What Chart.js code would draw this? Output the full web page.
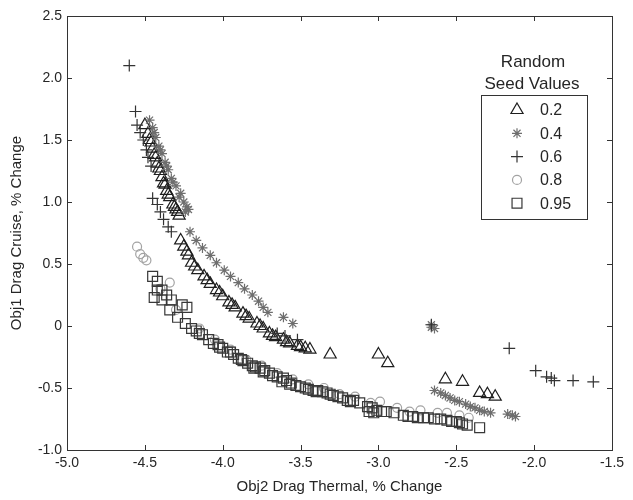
<!DOCTYPE html>
<html>
<head>
    <title>Random Seed Values</title>
    <style>
        body { margin: 0; background: #fff; }
        canvas { display: block; }
    </style>
    <script src="https://cdn.jsdelivr.net/npm/chart.js"></script>
</head>
<body>
    <canvas id="seedChart" width="633" height="500"></canvas>

    <script>
        // seed values shown in the legend
        const seedLabels = ['0.2', '0.4', '0.6', '0.8', '0.95'];

        const xTicks = [-5, -4.5, -4, -3.5, -3, -2.5, -2, -1.5];
        const yTicks = [-1, -0.5, 0, 0.5, 1, 1.5, 2, 2.5];

        // [Obj2 Drag Thermal, Obj1 Drag Cruise]
        const seed02 = [
            [-4.50, 1.62], [-4.48, 1.55], [-4.47, 1.50], [-4.46, 1.48], [-4.45, 1.43], [-4.44, 1.38],
            [-4.43, 1.36], [-4.42, 1.31], [-4.41, 1.27], [-4.40, 1.25], [-4.39, 1.20], [-4.38, 1.15],
            [-4.37, 1.14], [-4.36, 1.09], [-4.35, 1.06], [-4.34, 1.04], [-4.32, 0.98], [-4.31, 0.96],
            [-4.30, 0.94], [-4.29, 0.92], [-4.28, 0.89],
            [-4.27, 0.69], [-4.25, 0.64], [-4.23, 0.60], [-4.22, 0.57], [-4.20, 0.51], [-4.18, 0.48],
            [-4.16, 0.45], [-4.12, 0.40], [-4.10, 0.37], [-4.08, 0.34], [-4.04, 0.29], [-4.02, 0.27],
            [-4.00, 0.24], [-3.96, 0.19], [-3.94, 0.17], [-3.92, 0.15], [-3.87, 0.10], [-3.85, 0.08],
            [-3.83, 0.06], [-3.78, 0.02], [-3.76, 0.00], [-3.74, -0.02], [-3.70, -0.06], [-3.68, -0.08],
            [-3.66, -0.09], [-3.61, -0.11], [-3.59, -0.13], [-3.57, -0.14], [-3.52, -0.16], [-3.50, -0.17],
            [-3.47, -0.18], [-3.44, -0.19],
            [-3.31, -0.23], [-3.00, -0.23], [-2.94, -0.30], [-2.57, -0.43], [-2.46, -0.45],
            [-2.35, -0.54], [-2.30, -0.55], [-2.25, -0.57]
        ];

        const seed04 = [
            [-4.47, 1.66], [-4.45, 1.60], [-4.44, 1.56], [-4.43, 1.52], [-4.41, 1.45], [-4.40, 1.42],
            [-4.39, 1.39], [-4.37, 1.32], [-4.36, 1.29], [-4.35, 1.26], [-4.33, 1.19], [-4.32, 1.16],
            [-4.30, 1.13], [-4.28, 1.04], [-4.27, 1.07], [-4.25, 1.00], [-4.23, 0.96], [-4.22, 0.94],
            [-4.24, 0.92],
            [-4.21, 0.76], [-4.17, 0.69], [-4.13, 0.63], [-4.08, 0.57], [-4.04, 0.51], [-3.99, 0.45],
            [-3.95, 0.40], [-3.90, 0.35], [-3.86, 0.30], [-3.81, 0.25], [-3.77, 0.20], [-3.74, 0.15],
            [-3.71, 0.11], [-3.61, 0.07], [-3.55, 0.02],
            [-2.66, 0.01], [-2.64, -0.02], [-2.66, -0.01],
            [-2.64, -0.52], [-2.60, -0.54], [-2.57, -0.56], [-2.54, -0.58], [-2.51, -0.60], [-2.48, -0.61],
            [-2.44, -0.63], [-2.41, -0.65], [-2.38, -0.66], [-2.35, -0.68], [-2.32, -0.69], [-2.28, -0.70],
            [-2.17, -0.71], [-2.14, -0.72], [-2.12, -0.73]
        ];

        const seed06 = [
            [-4.60, 2.10], [-4.56, 1.73], [-4.55, 1.62], [-4.53, 1.56], [-4.51, 1.50], [-4.49, 1.42],
            [-4.48, 1.36], [-4.46, 1.29],
            [-4.45, 1.03], [-4.42, 0.98], [-4.40, 0.92], [-4.38, 0.86], [-4.35, 0.80], [-4.33, 0.76],
            [-3.65, -0.06], [-3.60, -0.08], [-3.52, -0.11],
            [-2.66, 0.01], [-2.16, -0.18], [-1.99, -0.36], [-1.92, -0.41], [-1.89, -0.42],
            [-1.87, -0.44], [-1.75, -0.44], [-1.62, -0.45]
        ];

        const seed08 = [
            [-4.55, 0.64], [-4.53, 0.58], [-4.51, 0.55], [-4.49, 0.53], [-4.34, 0.35], [-4.40, 0.30],
            [-4.30, 0.13], [-4.15, -0.02], [-4.05, -0.11], [-3.95, -0.19], [-3.85, -0.27], [-3.75, -0.32],
            [-3.65, -0.38], [-3.55, -0.43], [-3.45, -0.47], [-3.35, -0.50], [-3.25, -0.55], [-3.15, -0.57],
            [-3.05, -0.62], [-2.99, -0.61], [-2.88, -0.66], [-2.80, -0.69], [-2.73, -0.68], [-2.62, -0.70],
            [-2.56, -0.70], [-2.48, -0.72], [-2.42, -0.74]
        ];

        const seed095 = [
            [-4.45, 0.40], [-4.42, 0.36], [-4.39, 0.29], [-4.36, 0.25], [-4.33, 0.21], [-4.26, 0.17],
            [-4.23, 0.15], [-4.44, 0.23], [-4.39, 0.21], [-4.34, 0.13], [-4.29, 0.07], [-4.24, 0.02],
            [-4.20, -0.02], [-4.42, 0.29],
            [-4.17, -0.04], [-4.15, -0.06], [-4.13, -0.07], [-4.09, -0.11], [-4.06, -0.14], [-4.03, -0.15],
            [-4.02, -0.17], [-4.00, -0.18], [-3.97, -0.21], [-3.93, -0.23], [-3.90, -0.26], [-3.88, -0.27],
            [-3.87, -0.28], [-3.84, -0.30], [-3.81, -0.32], [-3.79, -0.33], [-3.76, -0.34], [-3.74, -0.37],
            [-3.73, -0.36], [-3.70, -0.38], [-3.68, -0.40], [-3.65, -0.41], [-3.61, -0.42], [-3.59, -0.44],
            [-3.57, -0.47], [-3.56, -0.46], [-3.53, -0.48], [-3.50, -0.49], [-3.47, -0.50], [-3.45, -0.51],
            [-3.42, -0.52], [-3.39, -0.52], [-3.36, -0.53], [-3.33, -0.54], [-3.31, -0.55], [-3.29, -0.56],
            [-3.26, -0.57], [-3.23, -0.58], [-3.20, -0.60], [-3.18, -0.61], [-3.16, -0.60], [-3.12, -0.62],
            [-3.07, -0.65], [-3.04, -0.66], [-3.01, -0.68], [-3.06, -0.69], [-3.03, -0.70], [-2.98, -0.69],
            [-2.95, -0.69], [-2.90, -0.70], [-2.84, -0.72], [-2.81, -0.73], [-2.78, -0.73], [-2.75, -0.74],
            [-2.71, -0.74], [-2.68, -0.74], [-2.64, -0.75], [-2.60, -0.75], [-2.56, -0.76], [-2.53, -0.77],
            [-2.50, -0.77], [-2.48, -0.78], [-2.46, -0.79], [-2.43, -0.80], [-2.35, -0.82],
            [-3.95, -0.21], [-3.80, -0.34], [-3.62, -0.45], [-3.40, -0.53]
        ];

        const toXY = arr => arr.map(p => ({ x: p[0], y: p[1] }));

        const series = [
            { label: seedLabels[0], data: seed02, style: 'triangle', radius: 7, color: '#1e1e1e' },
            { label: seedLabels[1], data: seed04, style: 'star', radius: 5, color: '#6e6e6e' },
            { label: seedLabels[2], data: seed06, style: 'cross', radius: 6, color: '#333333' },
            { label: seedLabels[3], data: seed08, style: 'circle', radius: 4.5, color: '#a3a3a3' },
            { label: seedLabels[4], data: seed095, style: 'rect', radius: 7, color: '#383838' }
        ];

        const textColor = '#262626';
        const fontFamily = 'Arial, "Liberation Sans", sans-serif';
        const markerLine = 1.2;

        // MATLAB style box with inward ticks on all four sides
        const framePlugin = {
            id: 'frame',
            afterDatasetsDraw(chart) {
                const { ctx, chartArea: a, scales } = chart;
                const len = 5;
                ctx.save();
                ctx.strokeStyle = '#333';
                ctx.lineWidth = 1;
                ctx.strokeRect(a.left + 0.5, a.top + 0.5, a.right - a.left, a.bottom - a.top);
                ctx.beginPath();
                xTicks.forEach(v => {
                    const px = Math.round(scales.x.getPixelForValue(v)) + 0.5;
                    ctx.moveTo(px, a.bottom); ctx.lineTo(px, a.bottom - len);
                    ctx.moveTo(px, a.top); ctx.lineTo(px, a.top + len);
                });
                yTicks.forEach(v => {
                    const py = Math.round(scales.y.getPixelForValue(v)) + 0.5;
                    ctx.moveTo(a.left, py); ctx.lineTo(a.left + len, py);
                    ctx.moveTo(a.right, py); ctx.lineTo(a.right - len, py);
                });
                ctx.stroke();
                ctx.restore();
            }
        };

        function drawMarker(ctx, style, radius, x, y) {
            if (Chart.helpers && Chart.helpers.drawPoint) {
                Chart.helpers.drawPoint(ctx, { pointStyle: style, radius: radius, rotation: 0, borderWidth: markerLine }, x, y);
                return;
            }
            ctx.beginPath();
            if (style === 'circle') {
                ctx.arc(x, y, radius, 0, Math.PI * 2);
            } else if (style === 'rect') {
                const s = radius * Math.SQRT1_2;
                ctx.rect(x - s, y - s, 2 * s, 2 * s);
            } else if (style === 'triangle') {
                for (let i = 0; i < 3; i++) {
                    const ang = i * 2 * Math.PI / 3;
                    ctx.lineTo(x + Math.sin(ang) * radius, y - Math.cos(ang) * radius);
                }
                ctx.closePath();
            } else {
                ctx.moveTo(x - radius, y); ctx.lineTo(x + radius, y);
                ctx.moveTo(x, y - radius); ctx.lineTo(x, y + radius);
                if (style === 'star') {
                    const d = radius * Math.SQRT1_2;
                    ctx.moveTo(x - d, y - d); ctx.lineTo(x + d, y + d);
                    ctx.moveTo(x - d, y + d); ctx.lineTo(x + d, y - d);
                }
            }
            ctx.stroke();
        }

        // legend drawn inside the plot, with its two line title above the box
        const legendPlugin = {
            id: 'seedLegend',
            afterDraw(chart) {
                const ctx = chart.ctx;
                ctx.save();
                ctx.fillStyle = textColor;
                ctx.textAlign = 'center';
                ctx.textBaseline = 'middle';
                ctx.font = '17px ' + fontFamily;
                ctx.fillText('Random', 533, 62);
                ctx.fillText('Seed Values', 532, 84);

                ctx.strokeStyle = '#333';
                ctx.lineWidth = 1;
                ctx.strokeRect(481.5, 95.5, 106, 124);

                ctx.font = '16px ' + fontFamily;
                ctx.textAlign = 'left';
                series.forEach((s, i) => {
                    const y = 110 + i * 23.3;
                    ctx.save();
                    ctx.strokeStyle = s.color;
                    ctx.fillStyle = 'rgba(0,0,0,0)';
                    ctx.lineWidth = markerLine;
                    drawMarker(ctx, s.style, s.radius, 517, y);
                    ctx.restore();
                    ctx.fillStyle = textColor;
                    ctx.fillText(s.label, 540, y + 1);
                });
                ctx.restore();
            }
        };

        const ctx = document.getElementById('seedChart').getContext('2d');
        new Chart(ctx, {
            type: 'scatter',
            data: {
                datasets: series.map((s, i) => ({
                    label: s.label,
                    data: toXY(s.data),
                    pointStyle: s.style,
                    pointRadius: s.radius,
                    pointBorderWidth: markerLine,
                    borderColor: s.color,
                    backgroundColor: 'rgba(0,0,0,0)',
                    order: series.length - i
                }))
            },
            options: {
                responsive: false,
                animation: false,
                layout: { padding: { top: 16, right: 21, left: 0, bottom: 0 } },
                plugins: {
                    legend: { display: false },
                    tooltip: { enabled: false }
                },
                scales: {
                    x: {
                        type: 'linear',
                        min: -5,
                        max: -1.5,
                        afterBuildTicks: scale => { scale.ticks = xTicks.map(v => ({ value: v })); },
                        afterFit: scale => { scale.height = 50; },
                        grid: { display: false, drawTicks: false },
                        border: { display: false },
                        ticks: {
                            autoSkip: false,
                            maxRotation: 0,
                            padding: 5,
                            color: textColor,
                            font: { family: fontFamily, size: 14 }
                        },
                        title: {
                            display: true,
                            text: 'Obj2 Drag Thermal, % Change',
                            color: textColor,
                            padding: { top: 0, bottom: 4 },
                            font: { family: fontFamily, size: 15 }
                        }
                    },
                    y: {
                        type: 'linear',
                        min: -1,
                        max: 2.5,
                        afterBuildTicks: scale => { scale.ticks = yTicks.map(v => ({ value: v })); },
                        afterFit: scale => { scale.width = 67; },
                        grid: { display: false, drawTicks: false },
                        border: { display: false },
                        ticks: {
                            autoSkip: false,
                            padding: 5,
                            color: textColor,
                            font: { family: fontFamily, size: 14 }
                        },
                        title: {
                            display: true,
                            text: 'Obj1 Drag Cruise, % Change',
                            color: textColor,
                            padding: { top: 8, bottom: 0 },
                            font: { family: fontFamily, size: 15 }
                        }
                    }
                }
            },
            plugins: [framePlugin, legendPlugin]
        });
    </script>
</body>
</html>
